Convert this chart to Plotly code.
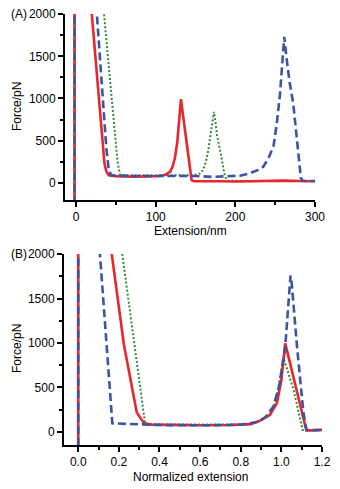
import plotly.graph_objects as go

# The page body has an 8px default margin, so the figure is drawn 8px smaller and offset.
OFF = 8
W, H = 340 - OFF, 489 - OFF

# ---------------- Panel A data (Extension/nm vs Force/pN) ----------------
a_red_x = [-2, -2, 14.3, 19.7, 35.5, 38, 41, 50, 70, 90, 105, 112, 118, 121, 124, 127, 129.5, 131.7,
           134, 137, 140, 143, 145, 148, 160, 180, 200, 220, 240, 260, 280, 300]
a_red_y = [-400, 2600, 2600, 2000, 233, 130, 88, 78, 72, 75, 80, 95, 130, 190, 290, 480, 750, 993,
           820, 600, 350, 120, 30, 18, 20, 17, 15, 20, 22, 25, 20, 18]

a_blue_x = [-2, -2, 21, 26, 38, 41, 44, 50, 70, 100, 130, 150, 170, 190, 206, 218, 228, 235, 242, 248,
            252, 256, 259, 261.4, 264, 268, 272.7, 276, 279, 282.3, 285, 300]
a_blue_y = [-400, 2600, 2600, 2000, 400, 150, 90, 85, 80, 80, 75, 80, 70, 75, 83, 111, 150, 190, 300, 440,
            700, 1050, 1450, 1732, 1500, 1200, 940, 650, 350, 52, 20, 20]

a_green_x = [-2, -2, 28.7, 35, 52, 55, 60, 80, 100, 120, 140, 150, 156, 160, 163, 166, 169, 171, 173,
             175, 177, 180.7, 184, 187, 190, 200, 220, 240, 260, 280, 300]
a_green_y = [-400, 2600, 2600, 2000, 250, 95, 90, 88, 92, 85, 88, 95, 111, 160, 250, 388, 560, 700, 842,
             720, 560, 388, 200, 71, 25, 20, 18, 22, 20, 25, 20]

# ---------------- Panel B data (Normalized extension vs Force/pN) ----------------
b_red_x = [0, 0, 0.13, 0.165, 0.225, 0.288, 0.324, 0.36, 0.45, 0.6, 0.75, 0.85, 0.9, 0.943, 0.978,
           1.0, 1.019, 1.05, 1.08, 1.123, 1.15, 1.2]
b_red_y = [-300, 2600, 2600, 2000, 980, 218, 94, 80, 75, 72, 75, 85, 130, 188, 320, 582, 995,
           700, 420, 15, 15, 20]

b_blue_x = [0, 0, 0.09, 0.107, 0.168, 0.2, 0.3, 0.4, 0.6, 0.8, 0.88, 0.92, 0.96, 0.99, 1.019, 1.035,
            1.045, 1.05, 1.077, 1.109, 1.124, 1.16, 1.2]
b_blue_y = [-300, 2600, 2600, 2000, 94, 92, 88, 75, 72, 78, 110, 160, 280, 520, 957, 1426,
            1760, 1700, 960, 207, 20, 18, 20]

b_green_x = [0, 0, 0.184, 0.217, 0.329, 0.36, 0.45, 0.6, 0.75, 0.85, 0.9, 0.94, 0.97, 0.99, 1.01,
             1.06, 1.105, 1.15, 1.2]
b_green_y = [-300, 2600, 2600, 2000, 94, 85, 80, 78, 80, 85, 125, 190, 320, 560, 840,
             469, 19, 18, 20]

RED = "#e8262b"
BLUE = "#3a55a6"
GREEN = "#2f8a3e"

fig = go.Figure()

def add(xs, ys, color, dash, width, xa, ya):
    fig.add_trace(go.Scatter(x=xs, y=ys, mode="lines", xaxis=xa, yaxis=ya,
                             line=dict(color=color, dash=dash, width=width),
                             showlegend=False, hoverinfo="skip"))

add(a_green_x, a_green_y, GREEN, "2px,2px", 2, "x", "y")
add(a_red_x, a_red_y, RED, "solid", 2.6, "x", "y")
add(a_blue_x, a_blue_y, BLUE, "8px,4px", 2.6, "x", "y")

add(b_green_x, b_green_y, GREEN, "2px,2px", 2, "x2", "y2")
add(b_red_x, b_red_y, RED, "solid", 2.6, "x2", "y2")
add(b_blue_x, b_blue_y, BLUE, "8px,4px", 2.6, "x2", "y2")

FONT = "Liberation Sans, Arial, sans-serif"
tickfont = dict(family=FONT, size=12, color="#000")

def axis_common():
    return dict(showline=True, linecolor="#000", linewidth=2, ticks="outside", ticklen=5,
                tickwidth=1.5, tickcolor="#000", showgrid=False, zeroline=False,
                tickfont=tickfont, automargin=False, fixedrange=True,
                ticklabeloverflow="allow")

def px(v):
    return v - OFF

# Panel pixel geometry (in window pixels)
ax_l, ax_r, ay_t, ay_b = px(65), px(315), px(14), px(200)
bx_l, bx_r, by_t, by_b = px(64), px(322), px(254), px(445)

MINOR = dict(ticklen=3, tickwidth=1.5, tickcolor="#000", ticks="outside")

xa = axis_common()
xa.update(domain=[ax_l / W, ax_r / W], range=[-14, 300], tickvals=[0, 100, 200, 300],
          minor=dict(tickvals=[50, 150, 250], **MINOR), anchor="y")
ya = axis_common()
ya.update(domain=[1 - ay_b / H, 1 - ay_t / H], range=[-205, 2003], tickvals=[0, 500, 1000, 1500, 2000],
          minor=dict(tickvals=[250, 750, 1250, 1750], **MINOR), anchor="x")

xb = axis_common()
xb.update(domain=[bx_l / W, bx_r / W], range=[-0.07, 1.2],
          tickvals=[0, 0.2, 0.4, 0.6, 0.8, 1.0, 1.2],
          ticktext=["0.0", "0.2", "0.4", "0.6", "0.8", "1.0", "1.2"],
          minor=dict(tickvals=[0.1, 0.3, 0.5, 0.7, 0.9, 1.1], **MINOR), anchor="y2")
yb = axis_common()
yb.update(domain=[1 - by_b / H, 1 - by_t / H], range=[-150, 2003], tickvals=[0, 500, 1000, 1500, 2000],
          minor=dict(tickvals=[250, 750, 1250, 1750], **MINOR), anchor="x2")

def ann(text, x, y, angle=0):
    return dict(text=text, x=px(x) / W, y=1 - px(y) / H, xref="paper", yref="paper", showarrow=False,
                font=dict(family=FONT, size=12, color="#000"), textangle=angle,
                xanchor="center", yanchor="middle")

fig.update_layout(
    width=W, height=H, margin=dict(l=0, r=0, t=0, b=0),
    paper_bgcolor="white", plot_bgcolor="white",
    xaxis=xa, yaxis=ya, xaxis2=xb, yaxis2=yb,
    annotations=[
        ann("(A)", 19, 14), ann("(B)", 19, 254),
        ann("Force/pN", 17, 107, -90), ann("Force/pN", 17, 349, -90),
        ann("Extension/nm", 190, 231), ann("Normalized extension", 190, 477),
    ],
)

fig.write_html("out.html")
